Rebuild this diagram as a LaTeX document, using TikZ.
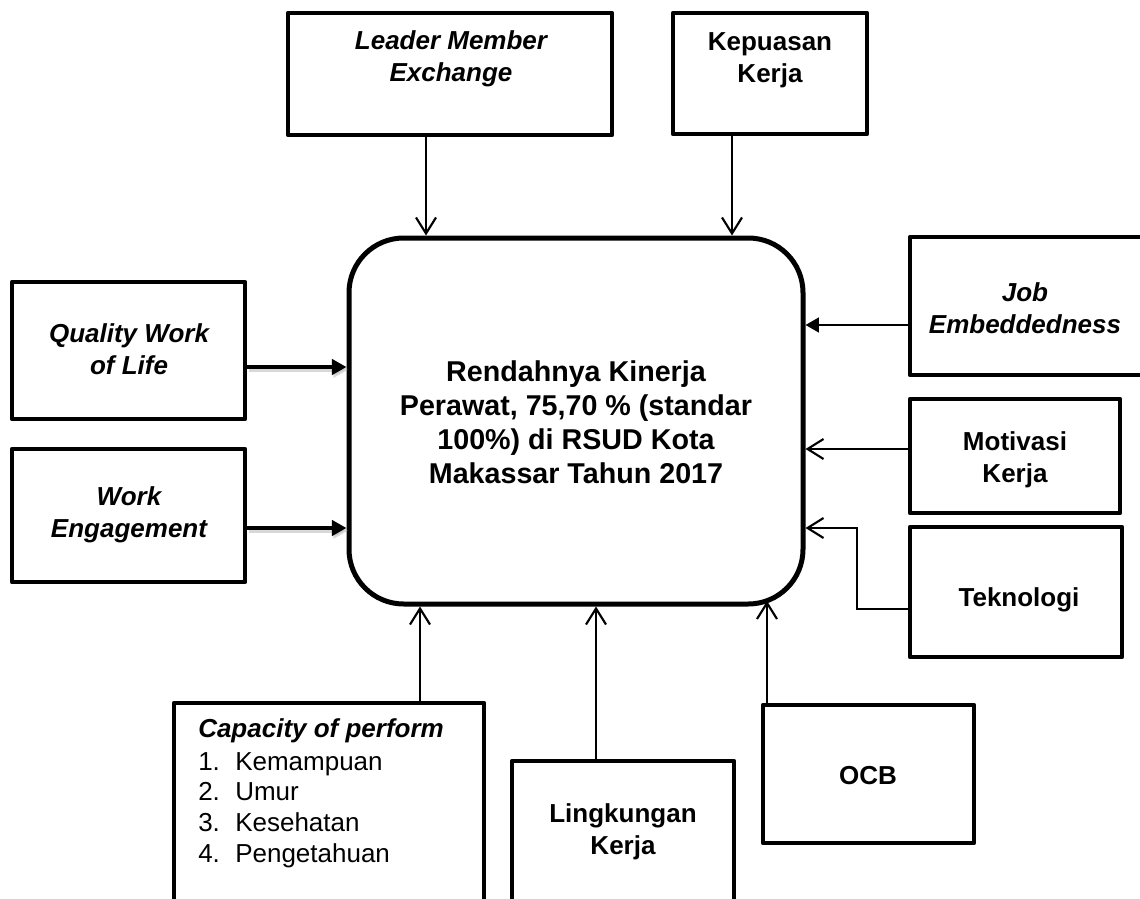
\documentclass[tikz,border=0pt]{standalone}
\usepackage{fontspec}
\setmainfont{Liberation Sans}
\usetikzlibrary{arrows.meta,fit}
\begin{document}
\begin{tikzpicture}[x=0.75pt,y=-0.75pt,
  box/.style={draw, line width=3.5pt, line join=round, inner sep=0pt},
  hub/.style={box, rounded corners=41pt, line width=3.75pt},
  lbl/.style={align=center, inner sep=0pt, font=\fontsize{19.5pt}{24pt}\selectfont\bfseries},
  lbli/.style={lbl, font=\fontsize{19.5pt}{24pt}\selectfont\bfseries\itshape},
  hubtext/.style={align=center, inner sep=0pt, font=\fontsize{21.5pt}{25.5pt}\selectfont\bfseries},
  item/.style={anchor=base west, inner sep=0pt, font=\fontsize{19.5pt}{24pt}\selectfont},
  conn/.style={line width=1.6pt, -{Straight Barb[length=12pt,width=15pt]}},
  solidconn/.style={line width=1.6pt, -{Triangle[length=10pt,width=11pt]}},
  heavyconn/.style={line width=3pt, -{Triangle[length=11pt,width=11.5pt]}},
  heavyshadow/.style={heavyconn, draw=black!30, opacity=0.5,
    transform canvas={xshift=1.2pt,yshift=-2pt}}
]
\useasboundingbox (0,0) rectangle (1140,899);
\clip (0,0) rectangle (1140,899);

% central problem statement
\node[hub, fit={(349,238) (803,604)}] (main) {};
\node[hubtext] (maintext) at (576,422)
  {Rendahnya Kinerja\\Perawat, 75,70 \% (standar\\100\%) di RSUD Kota\\Makassar Tahun 2017};

% factor boxes
\node[box, fit={(288,13) (612,135)}] (lme) {};
\node[lbli] (lmetext) at (451,59) {Leader Member\\Exchange};

\node[box, fit={(673,13) (867,134)}] (kk) {};
\node[lbl] (kktext) at (770,60) {Kepuasan\\Kerja};

\node[box, fit={(910,237) (1150,375)}] (je) {};
\node[lbli] (jetext) at (1025,308) {Job\\Embeddedness};

\node[box, fit={(910,399) (1120,513)}] (mk) {};
\node[lbl] (mktext) at (1015,460) {Motivasi\\Kerja};

\node[box, fit={(910,527) (1122,657)}] (tek) {};
\node[lbl] (tektext) at (1019,600) {Teknologi};

\node[box, fit={(12,282) (245,419)}] (qwl) {};
\node[lbli] (qwltext) at (129,349) {Quality Work\\of Life};

\node[box, fit={(12,449) (245,582)}] (we) {};
\node[lbli] (wetext) at (129,515) {Work\\Engagement};

\node[box, fit={(174,703) (484,930)}] (cap) {};
\node[item, font=\fontsize{19.5pt}{24pt}\selectfont\bfseries\itshape] (captitle) at (198,737) {Capacity of perform};
\node[item] (cap1) at (198,770) {\makebox[27.75pt][l]{1.}Kemampuan};
\node[item] (cap2) at (198,800) {\makebox[27.75pt][l]{2.}Umur};
\node[item] (cap3) at (198,831) {\makebox[27.75pt][l]{3.}Kesehatan};
\node[item] (cap4) at (198,862) {\makebox[27.75pt][l]{4.}Pengetahuan};

\node[box, fit={(512,761) (734,930)}] (ling) {};
\node[lbl] (lingtext) at (623,832) {Lingkungan\\Kerja};

\node[box, fit={(763,705) (974,843)}] (ocb) {};
\node[lbl] (ocbtext) at (868,776) {OCB};

% point on the lower right corner arc of the central box
\coordinate (ocbtip) at (767,601);

% connectors
\draw[conn] (lme.south -| 426,0) -- (main.north -| 426,0);
\draw[conn] (kk.south -| 732,0) -- (main.north -| 732,0);
\draw[solidconn] (je.west |- 0,325) -- (main.east |- 0,325);
\draw[conn] (mk.west |- 0,449) -- (main.east |- 0,449);
\draw[conn] (tek.west |- 0,609) -| (857,528) -- (main.east |- 0,528);

\draw[heavyshadow] (qwl.east |- 0,367) -- (main.west |- 0,367);
\draw[heavyconn] (qwl.east |- 0,367) -- (main.west |- 0,367);
\draw[heavyshadow] (we.east |- 0,528) -- (main.west |- 0,528);
\draw[heavyconn] (we.east |- 0,528) -- (main.west |- 0,528);

\draw[conn] (cap.north -| 420,0) -- (main.south -| 420,0);
\draw[conn] (ling.north -| 596,0) -- (main.south -| 596,0);
\draw[conn] (ocb.north -| 767,0) -- (ocbtip);
\end{tikzpicture}
\end{document}
